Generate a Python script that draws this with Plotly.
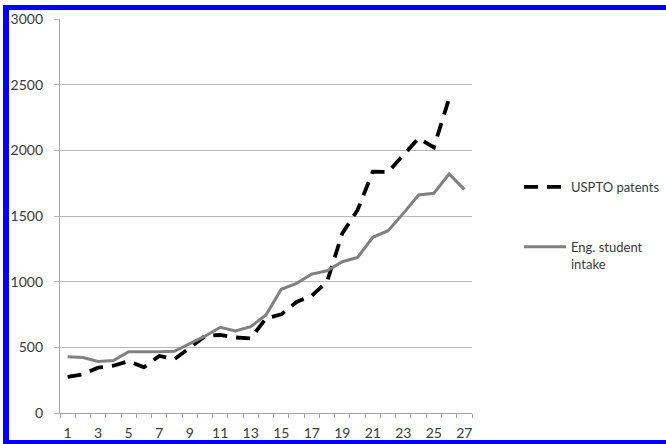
import plotly.graph_objects as go

categories = list(range(1, 28))
uspto_patents = [275, 295, 345, 360, 395, 348, 434, 411, 495, 586, 594, 575, 568, 721, 751,
                 845, 893, 1000, 1368, 1546, 1837, 1835, 1964, 2091, 2023, 2395, None]
eng_student_intake = [428, 422, 392, 400, 467, 466, 466, 470, 525, 585, 653, 625, 657, 746, 942,
                      987, 1058, 1083, 1152, 1185, 1338, 1388, 1520, 1660, 1673, 1820, 1703]
x_tick_labels = [str(v) for v in range(1, 28, 2)]
y_tick_values = list(range(0, 3001, 500))

FONT = "Lato, Carlito, Calibri, sans-serif"
TXT = "#3a3a3a"
GRID = "#b8b8b8"

fig = go.Figure()
fig.add_trace(go.Scatter(
    x=categories, y=uspto_patents, mode="lines", name="USPTO patents",
    line=dict(color="black", width=3.8, dash="14px,9px"),
    legendgroup="a", connectgaps=False,
))
fig.add_trace(go.Scatter(
    x=categories, y=eng_student_intake, mode="lines", name="Eng. student<br>intake",
    line=dict(color="#808080", width=3),
    legendgroup="b",
))

W, H = 666, 444
L, R, T, B = 60, 194, 19, 31
pw, ph = W - L - R, H - T - B

def px2x(px):
    return (px - L) / pw

def py2y(py):
    return (H - B - py) / ph

border = "#0000ff"
shapes = [
    dict(type="rect", xref="paper", yref="paper", x0=px2x(3), x1=px2x(9),
         y0=py2y(444), y1=py2y(5), fillcolor=border, line=dict(width=0), layer="above"),
    dict(type="rect", xref="paper", yref="paper", x0=px2x(3), x1=px2x(666),
         y0=py2y(10), y1=py2y(5), fillcolor=border, line=dict(width=0), layer="above"),
    dict(type="rect", xref="paper", yref="paper", x0=px2x(3), x1=px2x(666),
         y0=py2y(444), y1=py2y(440), fillcolor=border, line=dict(width=0), layer="above"),
]

fig.update_layout(
    width=W, height=H,
    margin=dict(l=L, r=R, t=T, b=B, autoexpand=False),
    paper_bgcolor="white", plot_bgcolor="white",
    font=dict(family=FONT, size=14, color=TXT),
    showlegend=True,
    legend=dict(xref="container", yref="container",
                x=519 / W, y=1 - 172 / H, xanchor="left", yanchor="top",
                tracegroupgap=40, font=dict(size=13, color=TXT),
                bgcolor="rgba(0,0,0,0)", itemwidth=42, valign="top"),
    shapes=shapes,
    xaxis=dict(
        range=[0.5, 27.5], tickmode="array", automargin=False,
        tickvals=list(range(1, 28, 2)), ticktext=x_tick_labels,
        ticks="", showgrid=False, zeroline=False,
        showline=True, linecolor="#a6a6a6", linewidth=1,
        ticklabelstandoff=7,
        minor=dict(ticks="outside", tick0=0.5, dtick=1, ticklen=4,
                   tickcolor="#a6a6a6", showgrid=False),
        fixedrange=True,
    ),
    yaxis=dict(
        range=[0, 3000], tickmode="array", tickvals=y_tick_values, automargin=False,
        ticks="outside", ticklen=5, tickcolor=GRID,
        showgrid=True, gridcolor=GRID, gridwidth=1.3, zeroline=False,
        showline=True, linecolor="#a6a6a6", linewidth=1.3,
        ticklabelstandoff=8,
        fixedrange=True,
    ),
)

post = (
    "document.body.style.margin='0';"
    "document.documentElement.style.overflow='hidden';"
    "document.body.style.overflow='hidden';"
    "var gd=document.getElementsByClassName('plotly-graph-div')[0];"
    "gd.style.overflow='hidden';"
    "gd.querySelectorAll('svg.main-svg').forEach(function(s){s.style.overflow='hidden';});"
)
fig.write_html("out.html", post_script=post, config={"displayModeBar": False})
